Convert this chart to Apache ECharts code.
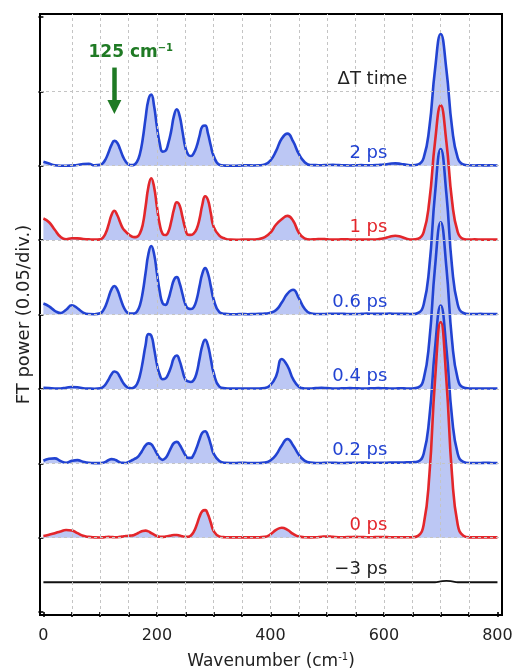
<!DOCTYPE html>
<html><head><meta charset="utf-8">
<script src="https://cdn.jsdelivr.net/npm/echarts@6/dist/echarts.min.js"></script>
<style>html,body{margin:0;padding:0;background:#fff}#c{width:515px;height:672px}</style>
</head><body><div id="c"></div>
<script>
// ---- x grid (cm^-1) ----
const wavenumbers = [0,10,20,30,40,50,60,70,80,90,
 100,105,110,115,120,125,130,135,140,145,150,155,160,165,170,175,180,185,190,195,
 200,205,210,215,220,225,230,235,240,245,250,255,260,265,270,275,280,285,290,295,300,
 310,320,330,340,350,360,370,380,390,400,410,420,430,440,450,460,470,480,490,500,
 510,520,530,540,550,560,570,580,590,600,610,620,630,640,650,660,670,680,690,700,
 710,720,730,740,750,760,770,780,790,800];

// ---- FT power of each delay (units of 0.001; one division = 50) ----
const power2ps = [2.7,1.5,0.3,0,0,0.2,0.5,1.2,1.3,0.3,
 0.6,1.8,4.7,9.2,14.0,16.7,15.5,11.2,6.3,2.8,0.9,0.4,0.7,2.7,7.9,18,32,44.3,47.8,40.1,
 26.3,15,9.5,10,15,23.1,33.5,38,33.5,23.1,12.5,7.5,6.5,8.5,13,20,26.4,27,21.6,13.4,6.5,
 0.7,0.1,0,0,0.2,0.3,0.2,0.3,0.8,3.5,10,18.3,21.6,16.3,7.9,2.5,0.5,0.4,0.3,0.5,
 0.6,0.4,0.3,0.2,0.3,0.4,0.3,0.3,0.5,0.8,1.3,1.6,1.2,0.6,0.3,0.8,5.3,25.7,64.7,88.6,
 64.7,25.7,5.3,0.8,0.3,0.2,0.3,0.2,0.3,0.2];
const power1ps = [14.5,12,7,2.2,0.5,1.3,1.2,0.8,0.5,0.3,
 0.5,1.7,4.9,10.6,16.9,19.7,16.9,12.2,7.9,5.7,3.9,2.6,2.0,2.3,4.5,10.4,22.4,35.7,41.6,35.7,
 22.4,10.5,4.2,3.4,5.5,12.2,20.6,25.5,23.3,15.6,7.7,3.6,3.5,4.5,7.5,14.1,23.8,29.5,26.9,18,8.9,
 3.0,1.0,0.3,0.2,0.3,0.3,0.4,0.8,2.0,5,10.5,14,16.3,13,5,1.2,0.4,0.6,0.8,0.5,
 0.3,0.4,0.6,0.4,0.3,0.3,0.4,0.4,0.6,1.2,2.3,2.9,2.2,0.9,0.4,0.9,5.4,26.3,66.1,90.6,
 66.1,26.3,5.4,0.8,0.3,0.5,0.4,0.3,0.4,0.3];
const power06ps = [7.4,5.5,2.5,1.0,3.2,6.2,4.2,1.3,0.3,0.2,
 0.8,2.6,6.2,11.7,16.9,19.2,16.9,11.7,6.2,2.6,0.8,0.6,0.7,2.0,6.2,15,27.9,40.6,46,40.6,
 27.9,15.4,7.5,6.5,10,16.8,23.3,25.1,21,13.8,7.1,4.0,3.7,5,10.1,18.9,27.5,31.2,27.5,18.9,10.1,
 1.6,0.4,0.2,0.2,0.3,0.2,0.3,0.4,0.6,1.2,3,8,14,16.6,11,4,0.8,0.3,0.3,0.4,
 0.5,0.5,0.4,0.3,0.3,0.4,0.6,0.5,0.4,0.5,0.6,0.5,0.4,0.4,0.3,1.0,6.7,32.2,81.2,111.2,
 81.2,32.2,6.7,1.0,0.3,0.3,0.4,0.3,0.3,0.3];
const power04ps = [0.7,0.5,0.3,0.3,0.8,1.3,1.1,0.4,0.2,0.1,
 0.4,1.3,3.3,6.4,9.9,11.7,10.9,7.9,4.4,1.9,0.7,0.4,1.0,3.3,8.9,18.3,29.4,36.8,35.9,27.2,
 16.5,9.5,6.5,7,10,15,20.8,22.4,18.8,12.3,6.4,5,4.6,6,10.7,20,29.1,33,29.1,20,10.7,
 1.5,0.4,0.2,0.2,0.3,0.3,0.3,0.3,0.5,2.5,8.5,20.1,15.5,6.5,1.5,0.3,0.2,0.5,0.7,0.5,
 0.3,0.3,0.4,0.5,0.4,0.3,0.3,0.4,0.5,0.4,0.3,0.3,0.4,0.3,0.3,0.9,6.7,32.5,81.8,112,
 81.8,32.5,6.7,0.9,0.3,0.2,0.3,0.3,0.2,0.3];
const power02ps = [1.7,3.0,3.3,1.5,0.3,1.6,2.1,1.0,0.3,0.1,
 0.1,0.3,1.0,2.2,2.8,2.6,1.6,0.6,0.3,0.2,0.8,1.8,2.8,3.9,6,9,12,13.4,12.8,10,
 6.5,3.5,2.3,3.5,6.5,10.5,13.6,14.4,12.5,9,5.5,3.6,3.6,6,10.5,16,20.5,21.5,18.5,12.5,6.5,
 1.5,0.3,0.2,0.2,0.3,0.2,0.2,0.2,0.4,1.9,5.7,12,16.3,12,5.7,1.8,0.4,0.2,0.2,0.3,
 0.3,0.2,0.2,0.3,0.3,0.4,0.4,0.3,0.3,0.3,0.4,0.4,0.5,0.6,0.7,1.2,6.4,30.7,77.4,106,
 77.4,30.7,6.4,0.9,0.2,0.2,0.2,0.3,0.2,0.2];
const power0ps = [1.1,2.0,3.0,4.2,5.1,4.8,3.0,1.2,0.5,0.2,
 0.1,0.2,0.4,0.5,0.4,0.3,0.3,0.5,0.8,1.1,1.3,1.4,1.8,2.7,3.7,4.5,4.7,4.2,3.1,2.0,
 1.1,0.6,0.5,0.7,1.1,1.5,1.8,1.8,1.4,0.9,0.5,0.6,1.5,4.0,8.5,14,17.8,18.5,15.5,10,4.5,
 0.8,0.3,0.2,0.2,0.2,0.2,0.2,0.2,0.5,2.2,5.2,6.7,5.2,2.5,0.7,0.3,0.2,0.3,0.6,0.8,
 0.5,0.3,0.3,0.4,0.5,0.4,0.3,0.3,0.4,0.4,0.3,0.3,0.3,0.3,0.3,1.2,8.7,42,105.9,145,
 105.9,42,8.7,1.2,0.2,0.2,0.2,0.2,0.2,0.2];
const powerMinus3ps = [0,0,0,0,0,0,0,0,0,0,
 0,0,0,0,0,0,0,0,0,0,0,0,0,0,0,0,0,0,0,0,
 0,0,0,0,0,0,0,0,0,0,0,0,0,0,0,0,0,0,0,0,0,
 0,0,0,0,0,0,0,0,0,0,0,0,0,0,0,0,0,0,0,0,
 0,0,0,0,0,0,0,0,0,0,0,0,0,0,0,0,0,0,0,0.6,
 0.9,0.6,0,0,0,0,0,0,0,0];

const delayLabels = ['2 ps','1 ps','0.6 ps','0.4 ps','0.2 ps','0 ps','\u22123 ps'];
const baselineOffsets = [300,250,200,150,100,50,20];
const xTickValues = [0,50,100,150,200,250,300,350,400,450,500,550,600,650,700,750,800];
const xLabelValues = [0,200,400,600,800];
const yTickValues = [0,50,100,150,200,250,300,350,400];
const gridXValues = [50,100,150,200,250,300,350,400,450,500,550,600,650,700,750];
const gridYValues = [50,100,150,200,250,300,350];

const BLUE = '#2243d2', RED = '#e3262b', BLACK = '#111', FILL = '#bcc7f4', GREEN = '#1f7a24';
const FONT = 'DejaVu Sans';

const spectra = [
  {label: delayLabels[0], values: power2ps, offset: baselineOffsets[0], color: BLUE, fill: true},
  {label: delayLabels[1], values: power1ps, offset: baselineOffsets[1], color: RED, fill: true},
  {label: delayLabels[2], values: power06ps, offset: baselineOffsets[2], color: BLUE, fill: true},
  {label: delayLabels[3], values: power04ps, offset: baselineOffsets[3], color: BLUE, fill: true},
  {label: delayLabels[4], values: power02ps, offset: baselineOffsets[4], color: BLUE, fill: true},
  {label: delayLabels[5], values: power0ps, offset: baselineOffsets[5], color: RED, fill: true},
  {label: delayLabels[6], values: powerMinus3ps, offset: baselineOffsets[6], color: BLACK, fill: false}
];

const toData = s => wavenumbers.map((w, i) => [w, s.offset + s.values[i]]);
const series = [];

// dashed grid lines (drawn under everything)
series.push({
  type: 'line', data: toData(spectra[6]), silent: true, z: 0, symbol: 'none',
  lineStyle: {opacity: 0},
  markLine: {
    silent: true, symbol: 'none', animation: false, label: {show: false},
    lineStyle: {type: [3, 3], color: '#c4c4c4', width: 1},
    data: gridXValues.map(x => ({xAxis: x})).concat(gridYValues.map(y => ({yAxis: y})))
  }
});

spectra.forEach(s => {
  if (s.fill) {
    series.push({
      type: 'line', data: toData(s), smooth: 0.5, symbol: 'none', z: 1, silent: true,
      lineStyle: {width: 0, opacity: 0},
      areaStyle: {color: FILL, opacity: 1, origin: s.offset}
    });
  }
});
spectra.forEach(s => {
  series.push({
    type: 'line', data: toData(s), smooth: 0.5, symbol: 'none', z: 2, silent: true,
    lineStyle: {width: s.color === BLACK ? 1.8 : 2.6, color: s.color},
    markPoint: {
      symbol: 'rect', symbolSize: 1, silent: true, itemStyle: {color: 'rgba(0,0,0,0)'},
      label: {show: true, position: 'left', distance: 0, formatter: s.label,
        color: s.color === BLACK ? '#222' : s.color, fontSize: 18, fontFamily: FONT},
      data: [{coord: [607, s.offset + 8.5]}]
    }
  });
});

// annotations
series.push({
  type: 'line', data: toData(spectra[6]), silent: true, z: 5, symbol: 'none',
  lineStyle: {opacity: 0},
  markLine: {
    silent: true, animation: false, symbol: ['none', 'triangle'], symbolSize: 14,
    label: {show: false},
    lineStyle: {type: 'solid', color: GREEN, width: 4.5},
    data: [[{coord: [125, 366]}, {coord: [125, 339.5]}]]
  },
  markPoint: {
    symbol: 'rect', symbolSize: 1, silent: true, itemStyle: {color: 'rgba(0,0,0,0)'},
    data: [
      {coord: [78.6, 375.8], label: {show: true, position: 'right', distance: 0,
        formatter: '125 cm{sup|\u22121}', color: GREEN, fontSize: 17, fontWeight: 'bold',
        fontFamily: FONT, lineHeight: 20,
        rich: {sup: {fontSize: 10, fontWeight: 'bold', color: GREEN, verticalAlign: 'top', lineHeight: 10, fontFamily: FONT}}}},
      {coord: [642, 358.3], label: {show: true, position: 'left', distance: 0,
        formatter: '\u0394T time', color: '#222', fontSize: 18, fontFamily: FONT}}
    ]
  }
});

const chart = echarts.init(document.getElementById('c'), null, {renderer: 'canvas'});
chart.setOption({
  animation: false,
  backgroundColor: '#fff',
  textStyle: {fontFamily: FONT},
  grid: {left: 40, right: 13, top: 14, bottom: 57, show: true, borderColor: '#000', borderWidth: 2,
    backgroundColor: '#fff', containLabel: false, outerBoundsMode: 'none'},
  xAxis: {
    type: 'value', min: -6, max: 808,
    axisLine: {show: false}, splitLine: {show: false},
    axisTick: {show: true, inside: false, length: 5, lineStyle: {color: '#000', width: 1.6}, customValues: xTickValues},
    axisLabel: {show: true, customValues: xLabelValues, margin: 13, fontSize: 16, color: '#222', fontFamily: FONT},
    name: 'Wavenumber (cm{sup|-1})', nameLocation: 'middle', nameGap: 37,
    nameTextStyle: {fontSize: 17, color: '#222', fontFamily: FONT, lineHeight: 20,
      rich: {sup: {fontSize: 10, color: '#222', verticalAlign: 'top', lineHeight: 10, fontFamily: FONT}}}
  },
  yAxis: {
    type: 'value', min: -2, max: 402,
    axisLine: {show: false}, splitLine: {show: false},
    axisTick: {show: true, inside: false, length: 5, lineStyle: {color: '#000', width: 1.6}, customValues: yTickValues},
    axisLabel: {show: false},
    name: 'FT power (0.05/div.)', nameLocation: 'middle', nameRotate: 90, nameGap: 7,
    nameTextStyle: {fontSize: 18, color: '#222', fontFamily: FONT}
  },
  series: series
});
</script></body></html>
